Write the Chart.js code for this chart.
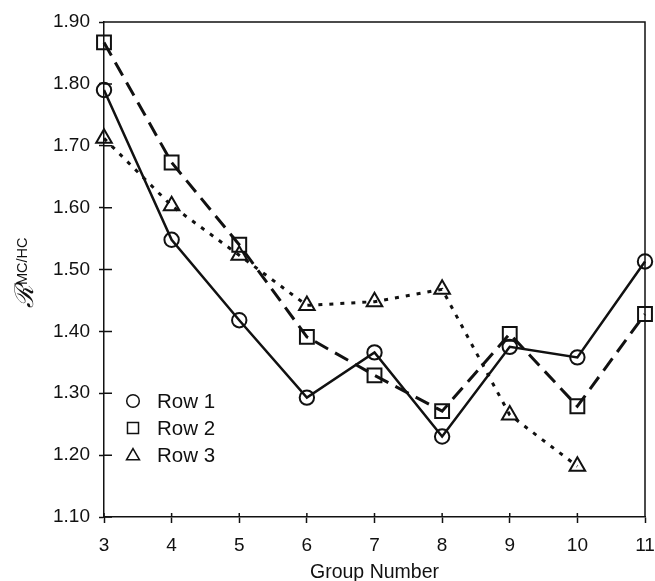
<!DOCTYPE html>
<html lang="en">
<head>
  <meta charset="UTF-8" />
  <title>Group Number chart</title>
  <style>
    body { margin: 0; background: #fff; }
    #wrap { width: 655px; height: 581px; }
  </style>
</head>
<body>
  <div id="wrap"><canvas id="chart" width="655" height="581"></canvas></div>

  <script src="https://cdn.jsdelivr.net/npm/chart.js"></script>
  <script>
    // data
    const groups = [3, 4, 5, 6, 7, 8, 9, 10, 11];
    const row1 = [1.790, 1.548, 1.418, 1.293, 1.366, 1.230, 1.375, 1.358, 1.513];
    const row2 = [1.867, 1.673, 1.540, 1.391, 1.329, 1.271, 1.396, 1.279, 1.428];
    const row3 = [1.712, 1.603, 1.523, 1.442, 1.448, 1.468, 1.265, 1.182, null];
    const seriesNames = ['Row 1', 'Row 2', 'Row 3'];
    const yTicks = [1.10, 1.20, 1.30, 1.40, 1.50, 1.60, 1.70, 1.80, 1.90];

    const FONT = 'Arial, "Liberation Sans", sans-serif';

    function pts(vals) {
      return groups.map((g, i) => ({ x: g, y: vals[i] })).filter(p => p.y !== null);
    }

    // frame, inner tick stubs, y title and legend
    const extras = {
      id: 'extras',
      afterDraw(chart) {
        const ctx = chart.ctx;
        const a = chart.chartArea;
        const xs = chart.scales.x, ys = chart.scales.y;
        ctx.save();
        ctx.strokeStyle = '#111';
        ctx.lineWidth = 1.5;
        ctx.beginPath();
        ctx.moveTo(a.left, a.top); ctx.lineTo(a.right, a.top); ctx.lineTo(a.right, a.bottom);
        // inner parts of the ticks
        yTicks.forEach(v => {
          const y = ys.getPixelForValue(v);
          ctx.moveTo(a.left, y); ctx.lineTo(a.left + 8, y);
        });
        groups.forEach(g => {
          const x = xs.getPixelForValue(g);
          ctx.moveTo(x, a.bottom); ctx.lineTo(x, a.bottom - 4);
        });
        ctx.stroke();

        // y title: script R with superscript
        ctx.fillStyle = '#111';
        ctx.translate(33, 308);
        ctx.rotate(-Math.PI / 2);
        ctx.textBaseline = 'alphabetic';
        ctx.font = 'italic 26px "DejaVu Serif", serif';
        ctx.fillText('\u211B', 0, 0);
        ctx.font = '14.5px ' + FONT;
        ctx.fillText('MC/HC', 23, -6);
        ctx.restore();

        // legend inside the plot
        ctx.save();
        chart.data.datasets.forEach((ds, i) => {
          const y = 401 + 27 * i;
          ctx.strokeStyle = '#111';
          ctx.fillStyle = 'rgba(0,0,0,0)';
          ctx.lineWidth = 1.5;
          const r = ds.pointStyle === 'rect' ? 7.8 : (ds.pointStyle === 'triangle' ? 7.5 : 6.3);
          Chart.helpers.drawPoint(ctx, {
            pointStyle: ds.pointStyle,
            radius: r,
            rotation: 0,
            borderWidth: 1.5
          }, 133, ds.pointStyle === 'triangle' ? y + 1 : y);
          ctx.fillStyle = '#111';
          ctx.font = '20.5px ' + FONT;
          ctx.textBaseline = 'middle';
          ctx.fillText(ds.label, 157, y + 1);
        });
        ctx.restore();
      }
    };

    const common = {
      borderColor: '#111',
      pointBorderColor: '#111',
      backgroundColor: 'rgba(0,0,0,0)',
      pointBackgroundColor: 'rgba(0,0,0,0)',
      pointBorderWidth: 2,
      tension: 0,
      clip: false
    };

    new Chart(document.getElementById('chart'), {
      type: 'line',
      data: {
        datasets: [
          Object.assign({}, common, {
            label: seriesNames[0], data: pts(row1),
            borderWidth: 2.5, pointStyle: 'circle', pointRadius: 7.2
          }),
          Object.assign({}, common, {
            label: seriesNames[1], data: pts(row2),
            borderWidth: 3, borderDash: [15, 8], pointStyle: 'rect', pointRadius: 9.8
          }),
          Object.assign({}, common, {
            label: seriesNames[2], data: pts(row3),
            borderWidth: 3, borderDash: [4, 7], pointStyle: 'triangle', pointRadius: 9
          })
        ]
      },
      options: {
        responsive: false,
        animation: false,
        layout: { autoPadding: false, padding: { top: 22, right: 10, left: 0, bottom: 0 } },
        plugins: { legend: { display: false }, tooltip: { enabled: false } },
        scales: {
          x: {
            type: 'linear', min: 3, max: 11,
            afterFit(s) { s.height = 64; s.paddingRight = 0; s.paddingLeft = 0; },
            grid: { drawOnChartArea: false, tickLength: 6, tickColor: '#111', tickWidth: 1.5 },
            border: { color: '#111', width: 1.5 },
            ticks: { stepSize: 1, padding: 11, color: '#111', font: { family: FONT, size: 19 } },
            title: { display: true, text: 'Group Number', color: '#111', padding: { top: 0, bottom: -3 },
                     font: { family: FONT, size: 19.5 } }
          },
          y: {
            min: 1.1, max: 1.9,
            afterFit(s) { s.width = 104; },
            afterBuildTicks(s) { s.ticks = yTicks.map(v => ({ value: v })); },
            grid: { drawOnChartArea: false, tickLength: 5, tickColor: '#111', tickWidth: 1.5 },
            border: { color: '#111', width: 1.5 },
            ticks: { padding: 9, color: '#111', font: { family: FONT, size: 19 },
                     callback: v => v.toFixed(2) }
          }
        }
      },
      plugins: [extras]
    });
  </script>
</body>
</html>
